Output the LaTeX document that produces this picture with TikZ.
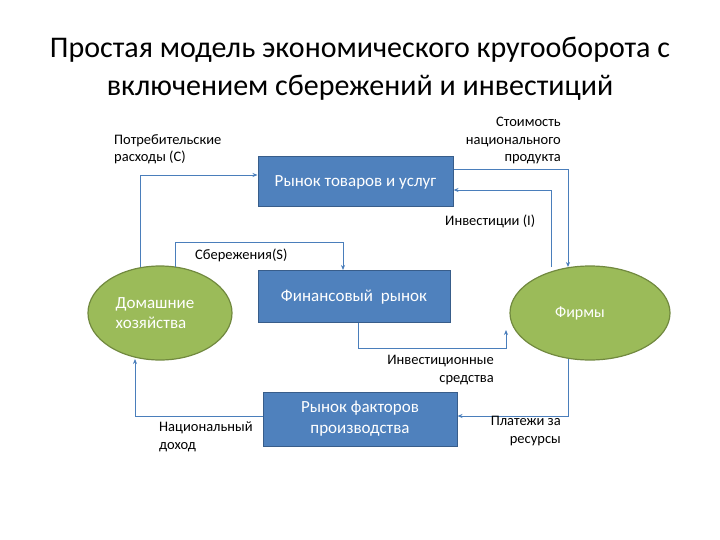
\documentclass[tikz,border=0pt]{standalone}
\usepackage{fontspec}
\setmainfont{Carlito}
\usetikzlibrary{arrows.meta}
\definecolor{boxblue}{RGB}{79,129,189}
\definecolor{boxedge}{RGB}{56,93,138}
\definecolor{ellgreen}{RGB}{155,187,89}
\definecolor{elledge}{RGB}{113,137,63}
\definecolor{linec}{RGB}{74,126,187}
\begin{document}
\begin{tikzpicture}[x=1pt,y=-1pt,
  blbox/.style={draw=boxedge,fill=boxblue,line width=1pt,text=white,font=\fontsize{17}{21}\selectfont,align=center,inner sep=0pt},
  grell/.style={draw=elledge,fill=ellgreen,line width=1.2pt},
  conn/.style={draw=linec,line width=0.8pt,-{Stealth[length=5pt,width=4pt]}},
  lbl/.style={font=\fontsize{14.5}{17.5}\selectfont,inner sep=0pt}]
\useasboundingbox (0,0) rectangle (720,540);
\node[font=\fontsize{30}{38}\selectfont,align=center] (title) at (360,69) {Простая модель экономического кругооборота с\\включением сбережений и инвестиций};
\node[blbox,minimum width=195pt,minimum height=50pt] (goods) at (355.5,182) {Рынок товаров и услуг};
\node[blbox,minimum width=192pt,minimum height=52pt,anchor=north] (fin) at (354,270) {};
\node[text=white,font=\fontsize{17}{21}\selectfont] (fint) at (354,297) {Финансовый\ \ рынок};
\node[blbox,minimum width=194pt,minimum height=54pt] (fact) at (360,419) {Рынок факторов\\производства};
\draw[grell] (160,313) ellipse [x radius=72,y radius=47];
\coordinate (hh) at (160,313);
\node[text=white,font=\fontsize{17}{20}\selectfont,align=left] (hht) at (155,313) {Домашние\\хозяйства};
\draw[grell] (590,313) ellipse [x radius=80,y radius=47];
\coordinate (firm) at (590,313);
\node[text=white,font=\fontsize{16}{20}\selectfont] (firmt) at (580,313) {Фирмы};
% connectors
\coordinate (hC) at (140,267);
\coordinate (hS) at (175,267);
\coordinate (hN) at (135,359);
\coordinate (fV) at (568,267);
\coordinate (fI) at (551,267);
\coordinate (fP) at (568,359);
\coordinate (fF) at (506,330);
\draw[conn] (hC) |- (goods.west |- 0,175);
\draw[conn] (goods.east |- 0,169) -| (fV);
\draw[conn] (fI) |- (goods.east |- 0,190);
\draw[conn] (hS) |- (343,242) -- (fin.north -| 343,0);
\draw[conn] (fin.south -| 358,0) |- (506,348) -- (fF);
\draw[conn] (fP) |- (fact.east |- 0,416);
\draw[conn] (fact.west |- 0,416) -| (hN);
% labels
\node[lbl,align=left,anchor=north west] (lC) at (114,134) {Потребительские\\расходы (С)};
\node[lbl,align=right,anchor=north east] (lV) at (561,117) {Стоимость\\национального\\продукта};
\node[lbl,anchor=west] (lI) at (445,221) {Инвестиции (I)};
\node[lbl,anchor=west] (lS) at (195,255) {Сбережения(S)};
\node[lbl,align=right,anchor=north east] (lF) at (494,355) {Инвестиционные\\средства};
\node[lbl,align=left,anchor=north west] (lN) at (159,422) {Национальный\\доход};
\node[lbl,align=right,anchor=north east] (lP) at (561,416) {Платежи за\\ресурсы};
\end{tikzpicture}
\end{document}
